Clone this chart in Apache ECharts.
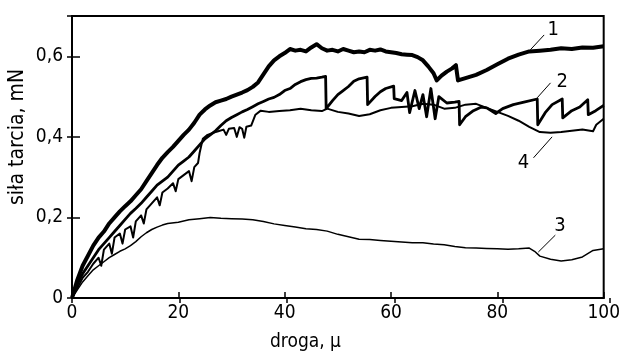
<!DOCTYPE html>
<html>
<head>
<meta charset="utf-8">
<script src="https://cdn.jsdelivr.net/npm/echarts@6.0.0/dist/echarts.min.js"></script>
<style>
  html, body { margin: 0; padding: 0; background: #fff; }
  #chart { width: 623px; height: 351px; }
</style>
</head>
<body>
<div id="chart"></div>
<script>
// axis ranges / ticks
var xMin = 0, xMax = 100, xStep = 20;
var yMin = 0, yMax = 0.7, yStep = 0.2;

// curve 1 - top, thick trace  [droga, sila]
var curve1 = [[0,0],[1,0.045],[2,0.08],[3,0.105],[4,0.13],[5,0.15],[6,0.165],[7,0.185],[8,0.2],[9,0.215],
  [10,0.228],[11,0.24],[12,0.255],[13,0.27],[14,0.29],[15,0.31],[16,0.33],[17,0.348],[18,0.362],[19,0.375],
  [20,0.39],[21,0.405],[22,0.418],[23,0.435],[24,0.455],[25,0.468],[26,0.478],[27,0.486],[28,0.49],[29,0.494],
  [30,0.5],[31,0.505],[32,0.51],[33,0.516],[34,0.524],[35,0.535],[36,0.555],[37,0.575],[38,0.59],[39,0.6],
  [40,0.608],[41,0.618],[42,0.614],[43,0.616],[44,0.612],[45,0.622],[46,0.63],[47,0.62],[48,0.614],[49,0.616],
  [50,0.612],[51,0.618],[52,0.614],[53,0.61],[54,0.612],[55,0.61],[56,0.616],[57,0.614],[58,0.617],[59,0.612],
  [60,0.61],[61,0.608],[62,0.605],[63,0.604],[64,0.603],[65,0.598],[66,0.59],[67,0.575],[68,0.558],[68.6,0.54],
  [69.5,0.552],[70.5,0.562],[71.5,0.57],[72.2,0.578],[72.6,0.54],[74,0.546],[76,0.554],[78,0.566],[80,0.58],
  [82,0.594],[84,0.604],[86,0.612],[88,0.614],[90,0.616],[92,0.62],[94,0.618],[96,0.622],[98,0.621],[100,0.625]];

// curve 2 - stick-slip trace
var curve2 = [[0,0],[1,0.035],[2,0.06],[3,0.08],[4,0.1],[5,0.12],[6,0.135],[7,0.15],[8,0.165],[9,0.18],
  [10,0.195],[11,0.21],[12,0.222],[13,0.235],[14,0.25],[15,0.265],[16,0.28],[17,0.29],[18,0.3],[19,0.315],
  [20,0.33],[21,0.34],[22,0.35],[23,0.365],[24,0.38],[25,0.395],[26,0.405],[27,0.415],[28,0.428],[29,0.44],
  [30,0.448],[31,0.455],[32,0.462],[33,0.468],[34,0.475],[35,0.482],[36,0.488],[37,0.494],[38,0.498],[39,0.505],
  [40,0.515],[41,0.52],[42,0.53],[43,0.537],[44,0.542],[45,0.545],[46,0.546],[47,0.548],[47.7,0.55],[47.8,0.47],
  [49,0.49],[50,0.505],[51,0.515],[52,0.525],[53,0.538],[54,0.544],[55.5,0.548],[55.6,0.48],[57,0.5],[58,0.512],
  [59,0.52],[60.5,0.526],[60.6,0.495],[62,0.49],[63,0.51],[63.5,0.46],[64.5,0.515],[65.3,0.47],[66,0.505],
  [66.7,0.45],[67.5,0.52],[68.3,0.445],[69,0.5],[70.5,0.484],[72,0.486],[72.8,0.488],[72.9,0.43],[74,0.45],
  [75.5,0.465],[77,0.474],[78,0.472],[79.7,0.458],[81,0.47],[83,0.48],[85,0.486],[87.5,0.494],[87.6,0.43],
  [89,0.46],[90.3,0.48],[92.2,0.494],[92.3,0.447],[94,0.465],[95.5,0.474],[97,0.492],[97.1,0.455],[98.5,0.465],[100,0.478]];

// curve 3 - lowest trace
var curve3 = [[0,0],[1,0.02],[2,0.04],[3,0.055],[4,0.07],[5,0.08],[6,0.09],[7,0.1],[8,0.108],[9,0.116],
  [10,0.122],[11,0.13],[12,0.14],[13,0.152],[14,0.162],[15,0.17],[16,0.176],[17,0.181],[18,0.185],[20,0.188],
  [22,0.194],[24,0.197],[26,0.2],[28,0.198],[30,0.197],[32,0.196],[34,0.194],[36,0.19],[38,0.184],[40,0.18],
  [42,0.176],[44,0.172],[46,0.17],[48,0.166],[50,0.158],[52,0.152],[54,0.146],[56,0.145],[58,0.143],[60,0.141],
  [62,0.139],[64,0.137],[66,0.137],[68,0.134],[70,0.132],[72,0.128],[74,0.125],[76,0.124],[78,0.123],[80,0.122],
  [82,0.121],[84,0.122],[86,0.124],[87,0.116],[88,0.104],[90,0.096],[92,0.092],[94,0.095],[96,0.102],[98,0.118],[100,0.122]];

// curve 4 - noisy trace under curve 2
var curve4 = [[0,0],[1,0.025],[2,0.05],[3,0.065],[4,0.085],[5,0.1],[5.5,0.08],[6,0.12],[7,0.135],[7.5,0.11],
  [8,0.15],[9,0.16],[9.5,0.135],[10,0.17],[11,0.178],[11.5,0.15],[12,0.19],[13,0.205],[13.5,0.185],[14,0.22],
  [15,0.235],[16,0.25],[16.5,0.23],[17,0.262],[18,0.272],[19,0.285],[19.5,0.265],[20,0.295],[21,0.305],[22,0.315],
  [22.5,0.29],[23,0.325],[23.7,0.335],[24,0.36],[24.6,0.395],[25.5,0.405],[26.5,0.41],[27.5,0.414],[28.5,0.418],
  [29,0.405],[29.5,0.42],[30.5,0.422],[31,0.4],[31.5,0.424],[32,0.42],[32.4,0.398],[32.8,0.425],[33.7,0.428],
  [34.5,0.455],[35.5,0.465],[37,0.462],[39,0.464],[41,0.466],[43,0.47],[45,0.466],[47,0.464],[48,0.47],[50,0.462],
  [52,0.458],[54,0.452],[56,0.456],[58,0.466],[60,0.472],[62,0.474],[64,0.476],[66,0.482],[68,0.48],[70,0.47],
  [72,0.472],[74,0.48],[76,0.482],[78,0.472],[80,0.462],[82,0.452],[84,0.44],[86,0.425],[88,0.412],[90,0.41],
  [92,0.412],[94,0.415],[96,0.418],[98,0.414],[98.6,0.43],[100,0.445]];

// curve numbers: [text, leader start, leader end, text centre]
var tags = [
  ['1', [86.2, 0.616], [88.8, 0.653], [90.5, 0.666]],
  ['2', [87.5, 0.497], [90.0, 0.534], [92.2, 0.537]],
  ['3', [87.7, 0.114], [90.9, 0.156], [91.8, 0.179]],
  ['4', [90.3, 0.400], [86.8, 0.348], [84.9, 0.335]]
];

var font = "'Liberation Sans Narrow', 'DejaVu Sans Condensed', sans-serif";
var chart = echarts.init(document.getElementById('chart'));

function trace(data, w, tag) {
  return {
    type: 'line',
    data: data,
    showSymbol: false,
    silent: true,
    lineStyle: { color: '#000', width: w, join: 'round' },
    z: 3,
    markLine: {
      silent: true,
      symbol: 'none',
      lineStyle: { color: '#000', width: 1, type: 'solid' },
      label: { show: false },
      data: [[{ coord: tag[1] }, { coord: tag[2] }]]
    },
    markPoint: {
      silent: true,
      symbol: 'circle',
      symbolSize: 0,
      label: {
        show: true, position: 'inside', formatter: tag[0],
        color: '#000', fontFamily: font, fontSize: 20
      },
      data: [{ coord: tag[3] }]
    }
  };
}

var comma = function (v) { return String(v).replace('.', ','); };

chart.setOption({
  animation: false,
  backgroundColor: '#fff',
  grid: [
    { left: 72, right: 13, top: 16, bottom: 53, show: true, borderColor: '#000', borderWidth: 2 },
    { left: 72, right: 13, top: 16, bottom: 53 }
  ],
  xAxis: [
    {
      type: 'value', min: xMin, max: xMax, interval: xStep, gridIndex: 0,
      axisLine: { lineStyle: { color: '#000', width: 2 } },
      axisTick: { inside: true, length: 6, lineStyle: { color: '#000', width: 1.5 } },
      axisLabel: { color: '#000', fontFamily: font, fontSize: 19, margin: 6 },
      splitLine: { show: false }
    },
    {
      type: 'value', min: xMin, max: xMax, interval: xStep, gridIndex: 1,
      axisLine: { show: false },
      axisTick: { inside: false, length: 5, lineStyle: { color: '#000', width: 1.5 } },
      axisLabel: { show: false },
      splitLine: { show: false }
    }
  ],
  yAxis: [
    {
      type: 'value', min: yMin, max: yMax, interval: yStep, gridIndex: 0,
      axisLine: { lineStyle: { color: '#000', width: 2 } },
      axisTick: { inside: true, length: 8, lineStyle: { color: '#000', width: 1.5 } },
      axisLabel: { color: '#000', fontFamily: font, fontSize: 19, margin: 9, showMaxLabel: false, formatter: comma },
      splitLine: { show: false }
    },
    {
      type: 'value', min: yMin, max: yMax, interval: yStep, gridIndex: 1,
      axisLine: { show: false },
      axisTick: { inside: false, length: 5, lineStyle: { color: '#000', width: 1.5 } },
      axisLabel: { show: false },
      splitLine: { show: false }
    }
  ],
  graphic: [
    {
      type: 'text', left: 270, top: 333,
      style: { text: 'droga, μ', fill: '#000', font: '19px ' + font }
    },
    {
      type: 'text', x: 7, y: 205, rotation: Math.PI / 2,
      style: { text: 'siła tarcia, mN', fill: '#000', font: '21px ' + font }
    }
  ],
  series: [
    trace(curve3, 1.5, tags[2]),
    trace(curve4, 2, tags[3]),
    trace(curve2, 2.8, tags[1]),
    trace(curve1, 4, tags[0])
  ]
});
</script>
</body>
</html>
